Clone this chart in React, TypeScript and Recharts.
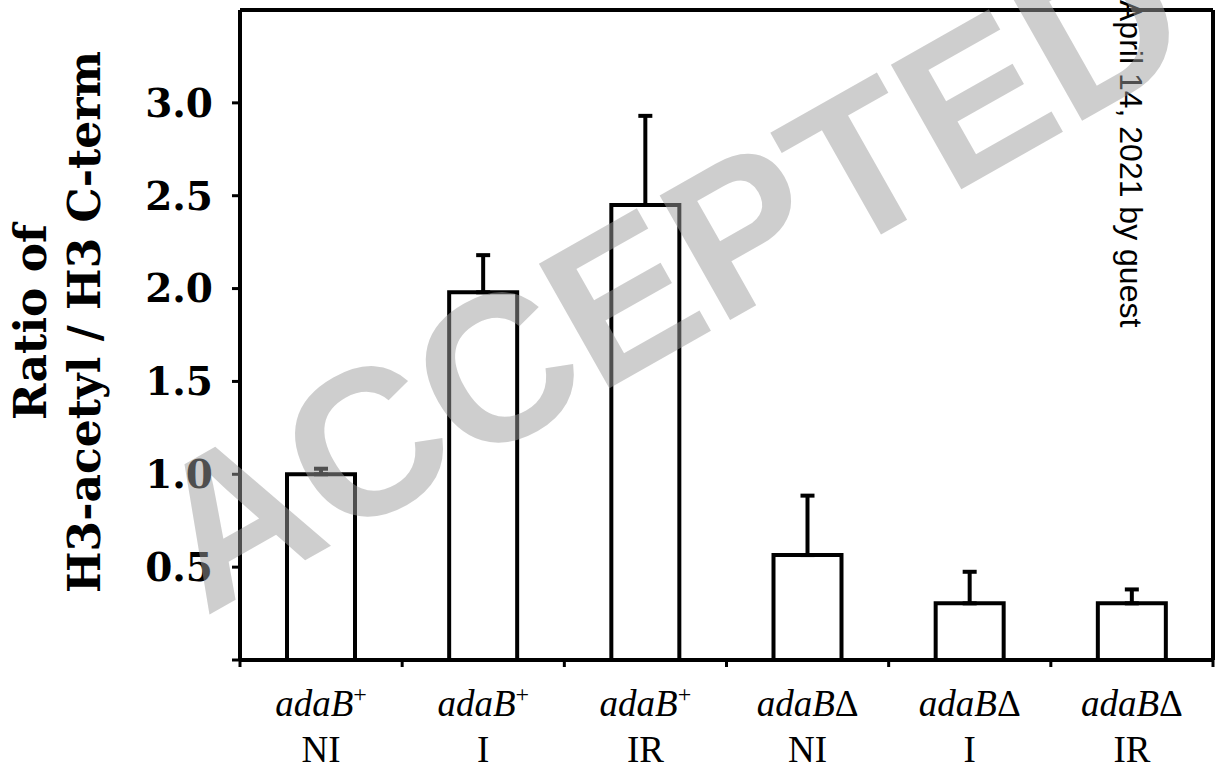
import React from 'react';
import { BarChart, Bar, XAxis, YAxis, ErrorBar, ReferenceLine } from 'recharts';

const genotypes = ['adaB+', 'adaB+', 'adaB+', 'adaBΔ', 'adaBΔ', 'adaBΔ'];
const treatments = ['NI', 'I', 'IR', 'NI', 'I', 'IR'];
const ratios = [1.0, 1.98, 2.45, 0.565, 0.305, 0.305];
const upperErrors = [0.03, 0.2, 0.48, 0.32, 0.17, 0.075];
const yTicks = [0, 0.5, 1, 1.5, 2, 2.5, 3];
const edgeTicks = [0, 1, 2, 3, 4, 5, 6];

const categories = treatments.map((t, i) => `${genotypes[i]} ${t}`);
const data = categories.map((c, i) => ({
  cat: c,
  pos: i + 0.5,
  value: ratios[i],
  err: [0, upperErrors[i]],
}));

const SERIF = '"Liberation Serif", "Times New Roman", Times, serif';
const BOLD_SERIF = '"DejaVu Serif", serif';

const XTick = (props: any) => {
  const { x, y, payload } = props;
  const idx = categories.indexOf(payload.value);
  const geno = genotypes[idx] || '';
  const base = geno.slice(0, 4);
  const suffix = geno.slice(4);
  return (
    <g>
      <text x={x} y={y + 40} textAnchor="middle" fontFamily={SERIF} fontSize={37} fill="#000">
        <tspan fontStyle="italic">{base}</tspan>
        {suffix === '+' ? (
          <tspan fontSize={24} dy={-14}>+</tspan>
        ) : (
          <tspan>{suffix}</tspan>
        )}
      </text>
      <text x={x} y={y + 86} textAnchor="middle" fontFamily={SERIF} fontSize={37} fill="#000">
        {treatments[idx]}
      </text>
    </g>
  );
};

export default function App() {
  return (
    <div style={{ position: 'absolute', left: 0, top: 0, width: 1226, height: 775, background: '#fff' }}>
      <BarChart
        width={1226}
        height={775}
        data={data}
        margin={{ top: 10, right: 13, bottom: 0, left: 0 }}
      >
        <XAxis
          xAxisId="a-edges"
          dataKey="pos"
          type="number"
          domain={[0, 6]}
          ticks={edgeTicks}
          allowDataOverflow
          height={8}
          tickSize={7}
          tickMargin={0}
          tickFormatter={() => ''}
          axisLine={{ stroke: '#000', strokeWidth: 4 }}
          tickLine={{ stroke: '#000', strokeWidth: 3 }}
        />
        <XAxis
          xAxisId="b-cat"
          dataKey="cat"
          height={107}
          axisLine={false}
          tickLine={false}
          interval={0}
          tick={<XTick />}
        />
        <YAxis
          domain={[0, 3.5]}
          ticks={yTicks}
          width={240}
          tickSize={8}
          tickMargin={19}
          tickFormatter={(v: number) => (v === 0 ? '' : v.toFixed(1))}
          axisLine={{ stroke: '#000', strokeWidth: 4 }}
          tickLine={{ stroke: '#000', strokeWidth: 3 }}
          tick={{ fontFamily: BOLD_SERIF, fontWeight: 'bold', fontSize: 39, fill: '#000' }}
        />
        <ReferenceLine xAxisId="b-cat" y={3.5} stroke="#000" strokeWidth={4} />
        <ReferenceLine xAxisId="a-edges" x={6} stroke="#000" strokeWidth={4} />
        <Bar
          xAxisId="b-cat"
          dataKey="value"
          fill="#fff"
          stroke="#000"
          strokeWidth={4}
          barSize={68}
          isAnimationActive={false}
        >
          <ErrorBar dataKey="err" direction="y" width={7} stroke="#000" strokeWidth={4} />
        </Bar>
      </BarChart>
      <svg
        width={1226}
        height={775}
        style={{ position: 'absolute', left: 0, top: 0, pointerEvents: 'none' }}
      >
        <text
          transform="translate(46 322) rotate(-90)"
          textAnchor="middle"
          fontFamily={BOLD_SERIF}
          fontWeight="bold"
          fontSize={44}
          fill="#000"
        >
          Ratio of
        </text>
        <text
          transform="translate(100 322) rotate(-90)"
          textAnchor="middle"
          fontFamily={BOLD_SERIF}
          fontWeight="bold"
          fontSize={44}
          fill="#000"
        >
          H3-acetyl / H3 C-term
        </text>
        <text
          transform="translate(1120 0) rotate(90)"
          fontFamily='"Liberation Sans", Arial, sans-serif'
          fontSize={32}
          fill="#000"
        >
          April 14, 2021 by guest
        </text>
        <text
          transform="translate(205 617) rotate(-29.5)"
          fontFamily='"Liberation Sans", Arial, sans-serif'
          fontWeight="bold"
          fontSize={208}
          fill="rgb(157,157,157)"
          fillOpacity={0.5}
        >
          ACCEPTED
        </text>
      </svg>
    </div>
  );
}
